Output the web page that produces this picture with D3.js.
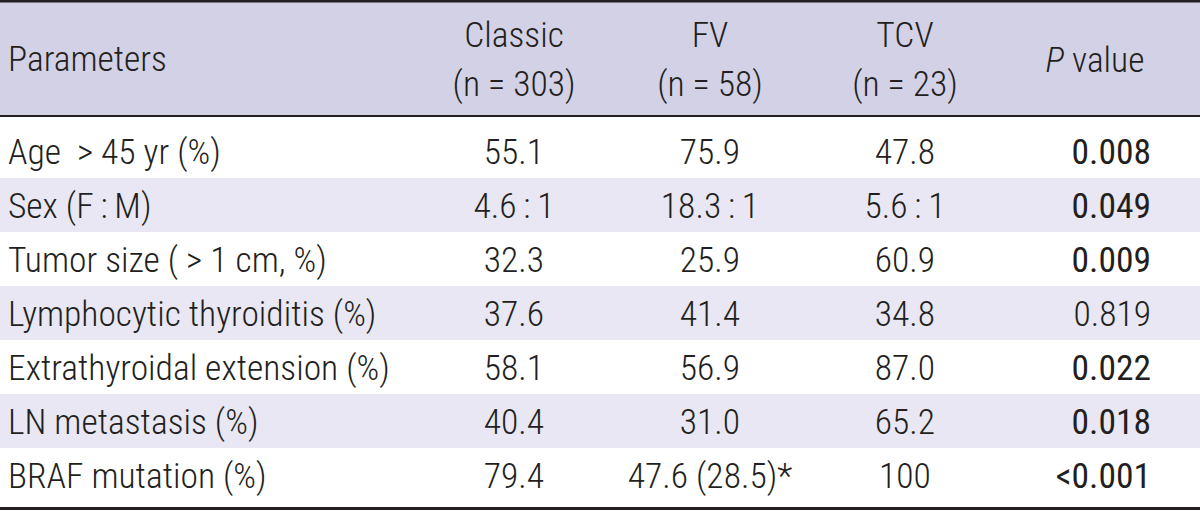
<!DOCTYPE html>
<html>
<head>
<meta charset="utf-8">
<script src="https://cdn.jsdelivr.net/npm/d3@7"></script>
<style>
  html, body { margin: 0; padding: 0; background: #ffffff; }
  svg { display: block; }
  text { font-family: "Liberation Sans Narrow", "Roboto Condensed", "DejaVu Sans Condensed", sans-serif; font-weight: 300; fill: #231f20; white-space: pre; }
</style>
</head>
<body>
<svg id="chart" width="1200" height="511"></svg>
<script>
// ---- data ----
const parameters = [
  "Age\u2002> 45 yr (%)",
  "Sex (F\u2009:\u2009M)",
  "Tumor size ( > 1 cm, %)",
  "Lymphocytic thyroiditis (%)",
  "Extrathyroidal extension (%)",
  "LN metastasis (%)",
  "BRAF mutation (%)"
];
const groups = ["Classic", "FV", "TCV"];
const groupSizes = ["(n = 303)", "(n = 58)", "(n = 23)"];
const classicValues = ["55.1", "4.6\u2009:\u20091", "32.3", "37.6", "58.1", "40.4", "79.4"];
const fvValues = ["75.9", "18.3\u2009:\u20091", "25.9", "41.4", "56.9", "31.0", "47.6 (28.5)*"];
const tcvValues = ["47.8", "5.6\u2009:\u20091", "60.9", "34.8", "87.0", "65.2", "100"];
const pValues = ["0.008", "0.049", "0.009", "0.819", "0.022", "0.018", "<0.001"];

// ---- layout ----
const W = 1200, H = 511;
const FS = 35.5;
const svg = d3.select("#chart");

const columns = ["param", ...groups, "p"];
const x = d3.scaleOrdinal().domain(columns).range([8, 514, 710, 905, 1151]);
const y = d3.scaleBand().domain(parameters).range([124, 502]);

const headerTop = 2, headerBottom = 116;

// header background
svg.append("rect").attr("x", 0).attr("y", headerTop).attr("width", W)
  .attr("height", headerBottom - headerTop).attr("fill", "#d3d1e6");

// row stripes
svg.append("g").selectAll("rect")
  .data(parameters.filter((d, i) => i % 2 === 1))
  .join("rect")
  .attr("x", 0).attr("y", d => y(d))
  .attr("width", W).attr("height", y.bandwidth())
  .attr("fill", "#e8e7f3");

// rules
const rule = (yy, w) => svg.append("line").attr("x1", 0).attr("x2", W)
  .attr("y1", yy).attr("y2", yy).attr("stroke", "#231f20").attr("stroke-width", w);
rule(1.2, 2.5);
rule(headerBottom, 2);
rule(508.5, 3);

// header text
const hdr = svg.append("g").attr("font-size", FS);
hdr.append("text").attr("x", x("param")).attr("y", 71).text("Parameters");
groups.forEach((g, i) => {
  hdr.append("text").attr("x", x(g)).attr("y", 47).attr("text-anchor", "middle").text(g);
  hdr.append("text").attr("x", x(g)).attr("y", 96).attr("text-anchor", "middle").text(groupSizes[i]);
});
const pv = hdr.append("text").attr("x", 1095).attr("y", 72).attr("text-anchor", "middle");
pv.append("tspan").attr("font-style", "italic").text("P");
pv.append("tspan").text(" value");

// body
const rows = parameters.map((p, i) => ({
  param: p, Classic: classicValues[i], FV: fvValues[i], TCV: tcvValues[i], p: pValues[i]
}));
const base = d => y(d.param) + y.bandwidth() / 2 + 13;

const body = svg.append("g").attr("font-size", FS);
body.selectAll("text.param").data(rows).join("text").attr("class", "param")
  .attr("x", x("param")).attr("y", base).text(d => d.param);
groups.forEach(g => {
  body.selectAll("text.c" + g).data(rows).join("text").attr("class", "c" + g)
    .attr("x", x(g)).attr("y", base).attr("text-anchor", "middle").text(d => d[g]);
});
const isSig = v => v.startsWith("<") || parseFloat(v) < 0.05;
body.selectAll("text.pv").data(rows).join("text").attr("class", "pv")
  .attr("x", x("p")).attr("y", base).attr("text-anchor", "end")
  .style("font-weight", d => isSig(d.p) ? 400 : 300)
  .text(d => d.p);
</script>
</body>
</html>
